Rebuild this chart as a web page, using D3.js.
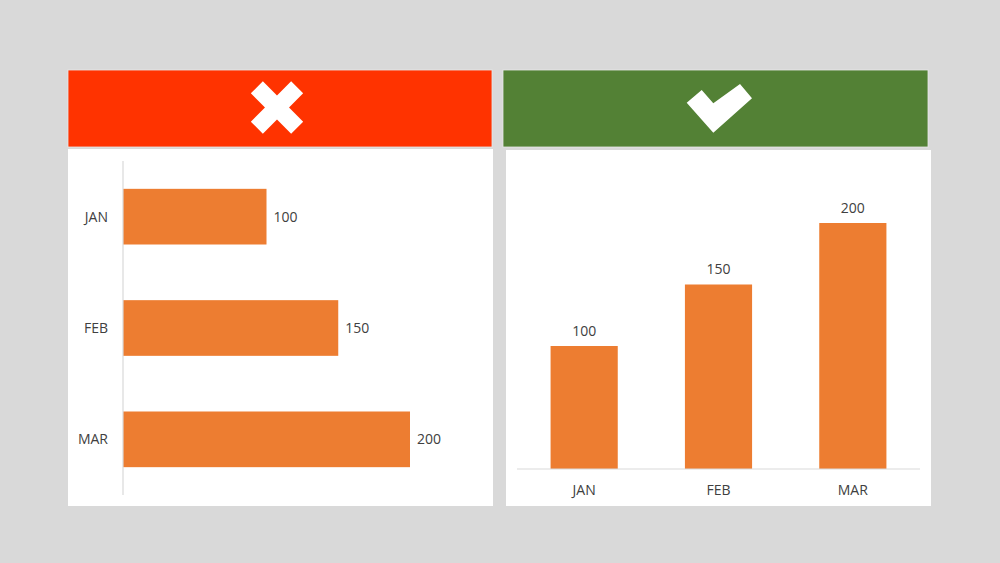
<!DOCTYPE html>
<html><head><meta charset="utf-8">
<script src="https://cdn.jsdelivr.net/npm/d3@7"></script>
<style>html,body{margin:0;padding:0;background:#d9d9d9;}svg{display:block;}</style>
</head><body>
<svg id="c" width="1000" height="563"></svg>
<script>
const categories = ["JAN", "FEB", "MAR"];
const values = [100, 150, 200];

const svg = d3.select("#c");
const font = "'Open Sans', 'Liberation Sans', sans-serif";
const textColor = "#404040";
const barColor = "#ED7D31";

svg.append("rect").attr("width",1000).attr("height",563).attr("fill","#d9d9d9");

// Panels
svg.append("rect").attr("x",68).attr("y",149).attr("width",425).attr("height",357).attr("fill","#fff");
svg.append("rect").attr("x",506).attr("y",150).attr("width",425).attr("height",356).attr("fill","#fff");
// Headers
svg.append("rect").attr("x",68).attr("y",70).attr("width",424).attr("height",77).attr("fill","#FF3300").attr("stroke","#e8e8e8").attr("stroke-width",0.8);
svg.append("rect").attr("x",503).attr("y",70).attr("width",425).attr("height",77).attr("fill","#538135").attr("stroke","#e8e8e8").attr("stroke-width",0.8);

// X icon (rotated plus)
{
  const cx = 277, cy = 107.5, L = 28.5, w = 8.5;
  const pts = [[-w,-L],[w,-L],[w,-w],[L,-w],[L,w],[w,w],[w,L],[-w,L],[-w,w],[-L,w],[-L,-w],[-w,-w]];
  svg.append("polygon")
    .attr("points", pts.map(p=>p.join(",")).join(" "))
    .attr("transform", `translate(${cx},${cy}) rotate(45)`)
    .attr("fill","#fff");
}
// Check icon
{
  const pts = [[686.7,102.7],[701.7,90],[713.3,103.3],[740,84],[752,98.3],[713.3,132.7]];
  svg.append("polygon").attr("points", pts.map(p=>p.join(",")).join(" ")).attr("fill","#fff");
}

// Left: horizontal bar chart
{
  const y = d3.scaleBand().domain(categories).range([161, 495]).paddingInner(0.5).paddingOuter(0.25);
  const x = d3.scaleLinear().domain([0, 200]).range([123, 410]);
  const g = svg.append("g");
  g.selectAll("rect.bar").data(values).join("rect")
    .attr("class","bar")
    .attr("x", x(0)).attr("y",(d,i)=>y(categories[i]))
    .attr("width", d=>x(d)-x(0)).attr("height", y.bandwidth())
    .attr("fill", barColor);
  g.append("line").attr("x1",x(0)).attr("x2",x(0)).attr("y1",161).attr("y2",495)
    .attr("stroke","#d9d9d9").attr("stroke-width",1.2);
  g.selectAll("text.cat").data(categories).join("text")
    .attr("class","cat")
    .attr("x",108).attr("y",d=>y(d)+y.bandwidth()/2)
    .attr("dy","0.35em").attr("text-anchor","end")
    .attr("font-family",font).attr("font-size",14).attr("fill",textColor)
    .text(d=>d);
  g.selectAll("text.val").data(values).join("text")
    .attr("class","val")
    .attr("x",d=>x(d)+7).attr("y",(d,i)=>y(categories[i])+y.bandwidth()/2)
    .attr("dy","0.35em")
    .attr("font-family",font).attr("font-size",14).attr("fill",textColor)
    .text(d=>d);
}

// Right: vertical column chart
{
  const x = d3.scaleBand().domain(categories).range([517, 920]).paddingInner(0.5).paddingOuter(0.25);
  const y = d3.scaleLinear().domain([0, 200]).range([469, 223]);
  const g = svg.append("g");
  g.selectAll("rect.bar").data(values).join("rect")
    .attr("class","bar")
    .attr("x",(d,i)=>x(categories[i])).attr("y",d=>y(d))
    .attr("width",x.bandwidth()).attr("height",d=>y(0)-y(d))
    .attr("fill",barColor);
  g.append("line").attr("x1",517).attr("x2",920).attr("y1",y(0)).attr("y2",y(0))
    .attr("stroke","#d9d9d9").attr("stroke-width",1.2);
  g.selectAll("text.cat").data(categories).join("text")
    .attr("class","cat")
    .attr("x",d=>x(d)+x.bandwidth()/2).attr("y",490)
    .attr("dy","0.35em").attr("text-anchor","middle")
    .attr("font-family",font).attr("font-size",14).attr("fill",textColor)
    .text(d=>d);
  g.selectAll("text.val").data(values).join("text")
    .attr("class","val")
    .attr("x",(d,i)=>x(categories[i])+x.bandwidth()/2).attr("y",d=>y(d)-15)
    .attr("dy","0.35em").attr("text-anchor","middle")
    .attr("font-family",font).attr("font-size",14).attr("fill",textColor)
    .text(d=>d);
}
</script>
</body></html>
